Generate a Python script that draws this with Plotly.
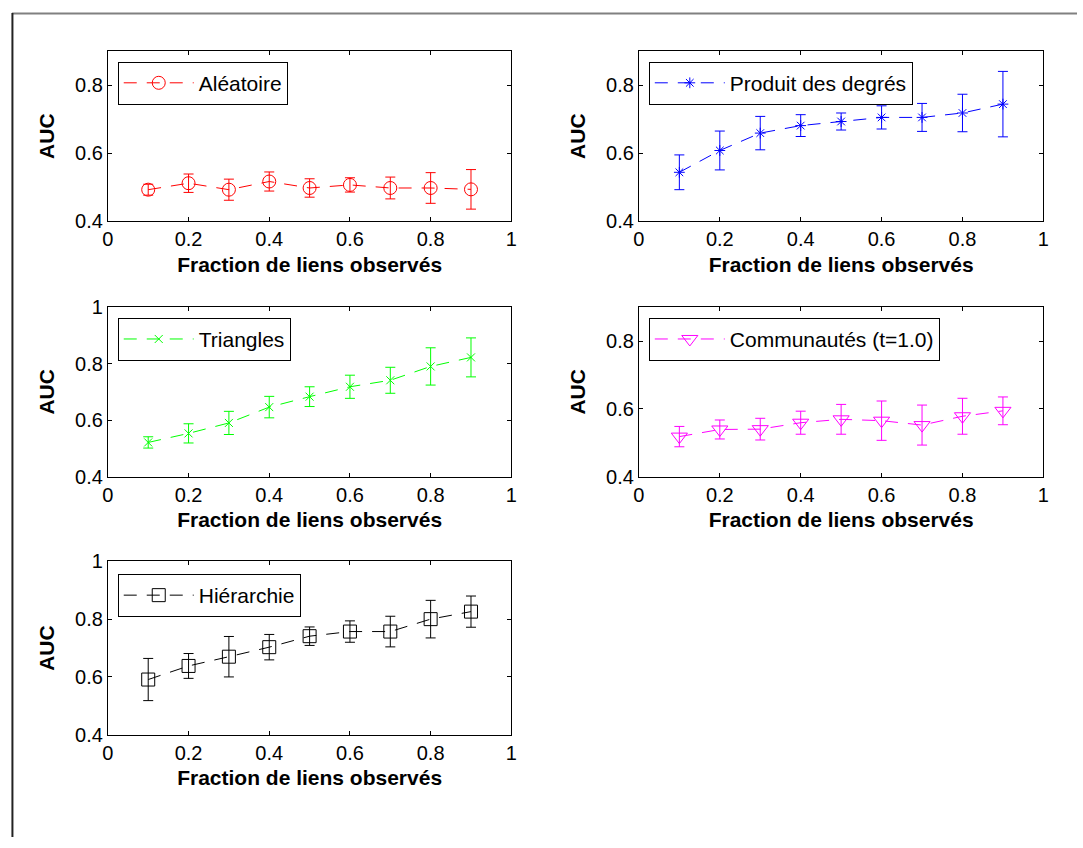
import plotly.graph_objects as go

x_frac = [0.1, 0.2, 0.3, 0.4, 0.5, 0.6, 0.7, 0.8, 0.9]

alea_auc = [0.493, 0.512, 0.493, 0.517, 0.498, 0.507, 0.498, 0.498, 0.494]
alea_err = [0.016, 0.027, 0.031, 0.028, 0.027, 0.021, 0.032, 0.045, 0.058]

deg_auc = [0.544, 0.608, 0.659, 0.681, 0.693, 0.705, 0.705, 0.718, 0.744]
deg_err = [0.051, 0.057, 0.049, 0.032, 0.025, 0.034, 0.041, 0.055, 0.096]

tri_auc = [0.521, 0.553, 0.590, 0.646, 0.683, 0.718, 0.741, 0.790, 0.822]
tri_err = [0.020, 0.034, 0.041, 0.038, 0.035, 0.041, 0.046, 0.066, 0.069]

com_auc = [0.518, 0.539, 0.540, 0.559, 0.569, 0.565, 0.552, 0.578, 0.594]
com_err = [0.030, 0.028, 0.032, 0.034, 0.044, 0.058, 0.059, 0.053, 0.041]

hie_auc = [0.591, 0.638, 0.670, 0.703, 0.741, 0.757, 0.757, 0.800, 0.826]
hie_err = [0.073, 0.043, 0.070, 0.044, 0.032, 0.037, 0.053, 0.065, 0.054]

labels = ["Aléatoire", "Produit des degrés", "Triangles", "Communautés (t=1.0)", "Hiérarchie"]
colors = ["#FF0000", "#0000FF", "#00FF00", "#FF00FF", "#000000"]
symbols = ["circle-open", "asterisk-open", "x-thin-open", "triangle-down-open", "square-open"]
msizes = [13, 9, 8, 14, 13]
series = [(alea_auc, alea_err), (deg_auc, deg_err), (tri_auc, tri_err), (com_auc, com_err), (hie_auc, hie_err)]
y_ranges = [[0.4, 0.9], [0.4, 0.9], [0.4, 1.0], [0.4, 0.9], [0.4, 1.0]]
y_ticks = [[0.4, 0.6, 0.8], [0.4, 0.6, 0.8], [0.4, 0.6, 0.8, 1.0], [0.4, 0.6, 0.8], [0.4, 0.6, 0.8, 1.0]]
y_ticktext = [["0.4", "0.6", "0.8"], ["0.4", "0.6", "0.8"], ["0.4", "0.6", "0.8", "1"], ["0.4", "0.6", "0.8"], ["0.4", "0.6", "0.8", "1"]]
x_ticks = [0, 0.2, 0.4, 0.6, 0.8, 1.0]
x_ticktext = ["0", "0.2", "0.4", "0.6", "0.8", "1"]

W, H = 1083, 848
col_px = [(103, 511), (640, 1049)]
row_px = [(41, 216), (304, 478), (565, 743)]
positions = [(0, 0), (0, 1), (1, 0), (1, 1), (2, 0)]
legend_px = [(113, 52), (650, 52), (113, 315), (650, 315), (113, 578)]


def px(v):
    return v / W


def py(v):
    return 1 - v / H


FONT = "Liberation Sans, Arial, sans-serif"
fig = go.Figure()
layout = dict(
    width=W, height=H, margin=dict(l=0, r=0, t=0, b=0),
    paper_bgcolor="white", plot_bgcolor="white",
    font=dict(family=FONT, size=20, color="black"),
    showlegend=True,
)

for i, ((yv, ev), lab) in enumerate(zip(series, labels)):
    n = i + 1
    xa = "x" if n == 1 else f"x{n}"
    ya = "y" if n == 1 else f"y{n}"
    lg = "legend" if n == 1 else f"legend{n}"
    fig.add_trace(go.Scatter(
        x=x_frac, y=yv, xaxis=xa, yaxis=ya, name=lab, legend=lg,
        mode="lines+markers",
        line=dict(color=colors[i], width=1, dash="13px,10px"),
        marker=dict(symbol=symbols[i], size=msizes[i], color=colors[i],
                    line=dict(color=colors[i], width=1)),
        error_y=dict(type="data", array=ev, visible=True, color=colors[i],
                     thickness=1, width=5),
        showlegend=True,
    ))
    r, c = positions[i]
    x0, x1 = col_px[c]
    y0, y1 = row_px[r]
    axcommon = dict(showline=True, linecolor="black", linewidth=1, mirror="ticks",
                    ticks="inside", ticklen=4, tickcolor="black", showgrid=False,
                    zeroline=False, tickfont=dict(family=FONT, size=20, color="black"))
    layout["xaxis" if n == 1 else f"xaxis{n}"] = dict(
        axcommon, domain=[px(x0), px(x1)], range=[0, 1], anchor=ya,
        tickvals=x_ticks, ticktext=x_ticktext,
        title=dict(text="<b>Fraction de liens observés</b>", standoff=7,
                   font=dict(family=FONT, size=21, color="black")))
    layout["yaxis" if n == 1 else f"yaxis{n}"] = dict(
        axcommon, domain=[py(y1), py(y0)], range=y_ranges[i], anchor=xa,
        tickvals=y_ticks[i], ticktext=y_ticktext[i],
        title=dict(text="<b>AUC</b>", standoff=14,
                   font=dict(family=FONT, size=21, color="black")))
    lx, ly = legend_px[i]
    layout[lg] = dict(x=px(lx), y=py(ly), xanchor="left", yanchor="top",
                      bgcolor="white", bordercolor="black", borderwidth=1,
                      font=dict(family=FONT, size=21, color="black"),
                      itemwidth=70, tracegroupgap=0)

layout["shapes"] = [
    dict(type="line", xref="paper", yref="paper", x0=px(6), x1=1, y0=py(2.5), y1=py(2.5),
         line=dict(color="#808080", width=2)),
    dict(type="line", xref="paper", yref="paper", x0=px(6.5), x1=px(6.5), y0=0, y1=py(2),
         line=dict(color="#222222", width=2)),
]

fig.update_layout(**layout)
fig.write_html("out.html")
